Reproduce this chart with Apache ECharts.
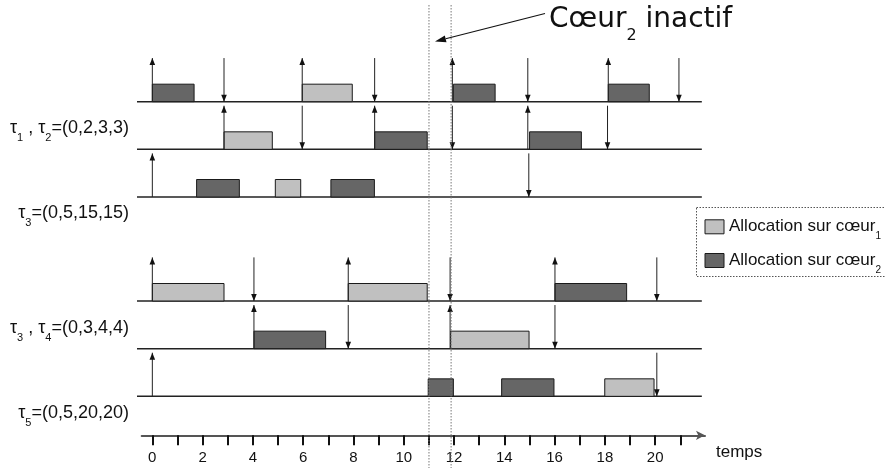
<!DOCTYPE html>
<html><head><meta charset="utf-8">
<script src="https://cdn.jsdelivr.net/npm/echarts@6/dist/echarts.min.js"></script>
<style>html,body{margin:0;padding:0;background:#fff;overflow:hidden}#c{width:885px;height:468px}</style>
</head><body><div id="c"></div>
<script>
// ---------------- data ----------------
const tickValues = [0,1,2,3,4,5,6,7,8,9,10,11,12,13,14,15,16,17,18,19,20,21];
const tickLabelValues = [0,2,4,6,8,10,12,14,16,18,20];
const axisName = 'temps';
const core1Name = 'Allocation sur cœur₁';
const core2Name = 'Allocation sur cœur₂';
const rowLabels = ['τ{s|1} , τ{s|2}=(0,2,3,3)', 'τ{s|3}=(0,5,15,15)', 'τ{s|3} , τ{s|4}=(0,3,4,4)', 'τ{s|5}=(0,5,20,20)'];
const annotationText = 'Cœur{s|2} inactif';
const laneRows = [0, 1, 2];
// top group: [row, start, end]
const topCore1 = [[0,5.96,7.95],[1,2.85,4.77],[2,4.89,5.90]];
const topCore2 = [[0,0,1.66],[0,11.97,13.63],[0,18.13,19.76],[1,8.84,10.93],[1,15.0,17.06],[2,1.76,3.46],[2,7.10,8.83]];
// [row, time]
const topReleases = [[0,0],[0,5.96],[0,11.93],[0,18.13],[1,2.85],[1,8.84],[1,14.93],[2,0]];
const topDeadlines = [[0,2.85],[0,8.84],[0,14.93],[0,20.94],[1,5.96],[1,11.93],[1,18.10],[2,14.97]];
// bottom group
const botCore1 = [[0,0,2.85],[0,7.79,10.93],[1,11.86,14.98],[2,17.99,19.95]];
const botCore2 = [[0,16.01,18.86],[1,4.04,6.89],[2,10.97,11.97],[2,13.89,15.97]];
const botReleases = [[0,0],[0,7.79],[0,16.01],[1,4.04],[1,11.84],[2,0]];
const botDeadlines = [[0,4.04],[0,11.84],[0,20.06],[1,7.79],[1,16.01],[2,20.06]];
// idle interval of core 2
const idleBounds = [11.0, 11.88];

// ---------------- styles ----------------
const C1 = '#c0c0c0', C2 = '#666666', EDGE = '#1a1a1a';
const BAR_H = 0.367, ARROW_LEN = 0.915;
const LANE_X = [-0.61, 21.85];
const FONT = 'Liberation Sans, Arial, sans-serif';

function renderBar(params, api) {
  const r = api.value(0);
  const a = api.coord([api.value(1), r + 1]);
  const b = api.coord([api.value(2), r + 1]);
  const h = api.size([0, BAR_H])[1];
  return {type: 'rect', shape: {x: a[0], y: a[1] - h, width: b[0] - a[0], height: h},
    style: {fill: api.visual('color'), stroke: EDGE, lineWidth: 1}};
}
function makeArrow(up) {
  return function (params, api) {
    const r = api.value(0), t = api.value(1);
    const base = api.coord([t, r + 1]);
    const top = api.coord([t, r + 1 - ARROW_LEN]);
    const x = base[0];
    const tip = up ? top[1] : base[1];
    const s = up ? 1 : -1;
    return {type: 'group', children: [
      {type: 'line', shape: {x1: x, y1: base[1], x2: x, y2: top[1]}, style: {stroke: '#222', lineWidth: 1}},
      {type: 'polygon', shape: {points: [[x, tip], [x - 2.8, tip + s * 7], [x + 2.8, tip + s * 7]]}, style: {fill: '#111'}}
    ]};
  };
}
function renderLane(params, api) {
  const r = api.value(1);
  const a = api.coord([LANE_X[0], r + 1]), b = api.coord([LANE_X[1], r + 1]);
  return {type: 'line', shape: {x1: a[0], y1: a[1], x2: b[0], y2: b[1]}, style: {stroke: '#222', lineWidth: 1.5}};
}
function renderIdle(params, api) {
  const x = api.coord([api.value(0), 1])[0];
  return {type: 'line', shape: {x1: x, y1: 5, x2: x, y2: 468}, style: {stroke: '#777', lineWidth: 1, lineDash: [1.5, 1.5]}};
}

function groupSeries(gi, c1, c2, rel, dl) {
  return [
    {type: 'custom', name: 'lanes' + gi, xAxisIndex: gi, yAxisIndex: gi, z: 1, clip: false,
      data: laneRows.map(r => [LANE_X[0], r]), encode: {x: 0, y: 1}, renderItem: renderLane, silent: true},
    {type: 'custom', name: core1Name, xAxisIndex: gi, yAxisIndex: gi, z: 2, clip: false,
      itemStyle: {color: C1, borderColor: EDGE, borderWidth: 1},
      data: c1, encode: {x: [1, 2], y: 0}, renderItem: renderBar},
    {type: 'custom', name: core2Name, xAxisIndex: gi, yAxisIndex: gi, z: 2, clip: false,
      itemStyle: {color: C2, borderColor: EDGE, borderWidth: 1},
      data: c2, encode: {x: [1, 2], y: 0}, renderItem: renderBar},
    {type: 'custom', name: 'rel' + gi, xAxisIndex: gi, yAxisIndex: gi, z: 3, clip: false,
      data: rel, encode: {x: 1, y: 0}, renderItem: makeArrow(true), silent: true},
    {type: 'custom', name: 'dl' + gi, xAxisIndex: gi, yAxisIndex: gi, z: 3, clip: false,
      data: dl, encode: {x: 1, y: 0}, renderItem: makeArrow(false), silent: true}
  ];
}

const hiddenX = {type: 'value', min: -0.61, max: 22, show: false};
const hiddenY = {type: 'value', min: 0, max: 3, inverse: true, show: false};

const chart = echarts.init(document.getElementById('c'), null, {renderer: 'canvas'});
const subRich = {s: {fontSize: 11, fontFamily: FONT, color: '#111', padding: [20, 0, 0, 0]}};

// annotation arrow geometry
const A0 = [545, 13.5], A1 = [435, 41.5];
const dx = A1[0] - A0[0], dy = A1[1] - A0[1], L = Math.hypot(dx, dy);
const ux = dx / L, uy = dy / L, px = -uy, py = ux;
const hb = [A1[0] - ux * 11, A1[1] - uy * 11];

chart.setOption({
  animation: false,
  backgroundColor: '#fff',
  grid: [
    {left: 137, width: 568.6, top: 54, height: 143},
    {left: 137, width: 568.6, top: 253.33, height: 143},
    {left: 141.7, width: 563.3, top: 430, height: 5.3}
  ],
  xAxis: [
    Object.assign({gridIndex: 0}, hiddenX),
    Object.assign({gridIndex: 1}, hiddenX),
    {gridIndex: 2, type: 'value', min: -0.42, max: 21.98, position: 'bottom',
      axisLine: {show: true, symbol: ['none', 'arrow'], symbolSize: [7, 9], lineStyle: {color: '#555', width: 2}},
      axisTick: {show: true, customValues: tickValues, length: 10, lineStyle: {color: '#111', width: 2}},
      axisLabel: {show: true, customValues: tickLabelValues, margin: 15, fontSize: 15, fontFamily: FONT, color: '#111'},
      splitLine: {show: false}}
  ],
  yAxis: [
    Object.assign({gridIndex: 0}, hiddenY),
    Object.assign({gridIndex: 1}, hiddenY),
    {gridIndex: 2, type: 'value', show: false}
  ],
  legend: {
    orient: 'vertical', left: 696.5, top: 207.3,
    data: [{name: core1Name, icon: 'rect'}, {name: core2Name, icon: 'rect'}],
    itemWidth: 19, itemHeight: 14, itemGap: 10.7,
    padding: [11, 2, 4, 8],
    itemStyle: {borderColor: EDGE, borderWidth: 1},
    selectedMode: false,
    formatter: n => n.replace('₁', '{s|1}').replace('₂', '{s|2}'),
    textStyle: {fontSize: 17, fontFamily: FONT, color: '#111',
      rich: {s: {fontSize: 10, fontFamily: FONT, color: '#111', padding: [19, 0, 0, 0]}}}
  },
  graphic: [
    {type: 'rect', z: 0, shape: {x: 696.5, y: 207.5, width: 220, height: 69},
      style: {fill: 'none', stroke: '#555', lineWidth: 1, lineDash: [1.5, 1.5]}},
    ...rowLabels.map((t, i) => ({
      type: 'text', x: 129, y: [128, 213, 328, 413][i], z: 10,
      style: {text: t, align: 'right', verticalAlign: 'middle', fontSize: 18, fontFamily: FONT, fill: '#111', rich: subRich}
    })),
    {type: 'text', x: 716, y: 452, z: 10,
      style: {text: axisName, align: 'left', verticalAlign: 'middle', fontSize: 17, fontFamily: FONT, fill: '#111'}},
    {type: 'text', x: 549, y: 20, z: 10,
      style: {text: annotationText, align: 'left', verticalAlign: 'middle', fontSize: 28, fontFamily: 'DejaVu Sans', fill: '#111',
        rich: {s: {fontSize: 16, fontFamily: 'DejaVu Sans', fill: '#111', padding: [31, 0, 0, 0]}}}},
    {type: 'line', z: 10, shape: {x1: A0[0], y1: A0[1], x2: hb[0], y2: hb[1]}, style: {stroke: '#111', lineWidth: 1.2}},
    {type: 'polygon', z: 10, shape: {points: [A1, [hb[0] + px * 3.5, hb[1] + py * 3.5], [hb[0] - px * 3.5, hb[1] - py * 3.5]]}, style: {fill: '#111'}}
  ],
  series: [
    ...groupSeries(0, topCore1, topCore2, topReleases, topDeadlines),
    ...groupSeries(1, botCore1, botCore2, botReleases, botDeadlines),
    {type: 'custom', name: 'idle', xAxisIndex: 0, yAxisIndex: 0, z: 4, clip: false, silent: true,
      data: idleBounds.map(t => [t, 0]), encode: {x: 0, y: 1}, renderItem: renderIdle}
  ]
});
</script>
</body></html>
